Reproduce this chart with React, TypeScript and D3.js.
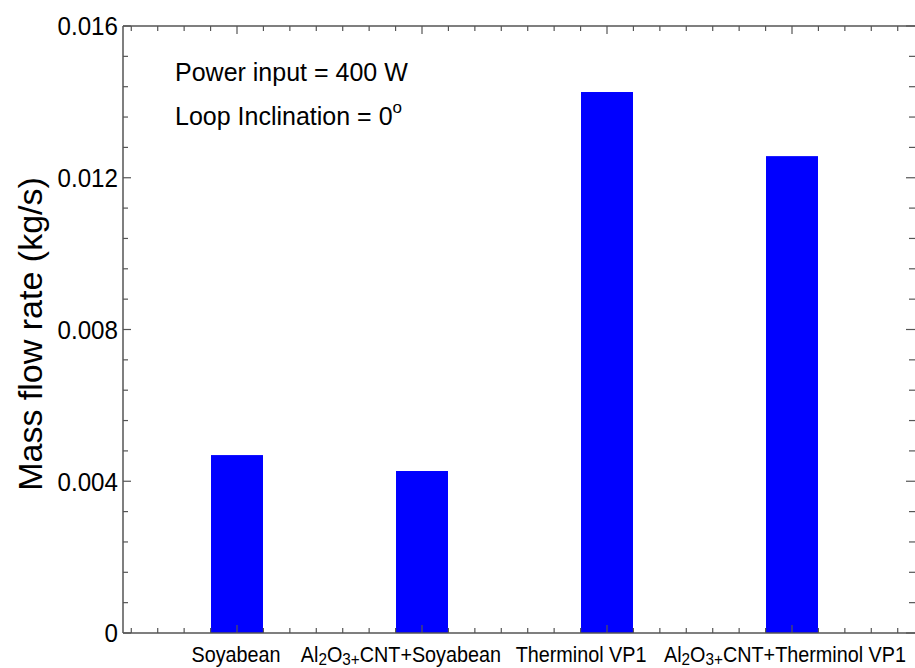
import React from "react";
import * as d3 from "d3";

const categories = ["Soyabean", "Al2O3+CNT+Soyabean", "Therminol VP1", "Al2O3+CNT+Therminol VP1"];
const massFlow = [0.00469, 0.00427, 0.01426, 0.01257];
const yMajorTicks = [0, 0.004, 0.008, 0.012, 0.016];
const yTickLabels = ["0", "0.004", "0.008", "0.012", "0.016"];
const annotationLine1 = "Power input = 400 W";
const annotationLine2 = "Loop Inclination = 0";
const yTitle = "Mass flow rate (kg/s)";

const W = 915;
const H = 668;
const left = 123;
const right = 916;
const top = 26;
const bottom = 633;
const font = "'Liberation Sans', Arial, sans-serif";

function CatLabel({ name, x, y }: { name: string; x: number; y: number }) {
  const common = {
    textAnchor: "middle" as const,
    fontSize: 22,
    fontFamily: font,
    fill: "#000",
    transform: `translate(${x}, ${y}) scale(0.9, 1)`,
  };
  if (name.startsWith("Al2O3+")) {
    const rest = name.slice(6);
    return (
      <text {...common}>
        Al
        <tspan fontSize={17} dy={3}>2</tspan>
        <tspan dy={-3}>O</tspan>
        <tspan fontSize={17} dy={3}>3+</tspan>
        <tspan dy={-3}>{rest}</tspan>
      </text>
    );
  }
  return <text {...common}>{name}</text>;
}

export default function App() {
  const x = d3.scaleLinear().domain([1 - 114 / 185, 1 + 679 / 185]).range([left, right]);
  const y = d3.scaleLinear().domain([0, 0.016]).range([bottom, top]);
  const barW = x(1.281) - x(1);
  const xMinor = d3.range(-4, 30).map((k) => 1 + k / 7).filter((c) => x(c) > left + 2 && x(c) < right - 1);
  const yMinor = d3.range(0, 21).map((k) => k * 0.0008);
  const labelCenters = [0.995, 1.886, 2.86, 3.962];
  const axisColor = "#555";

  return (
    <div style={{ position: "fixed", left: 0, top: 0 }}>
      <svg width={W} height={H} style={{ display: "block", background: "#fff" }}>
        <rect x={0} y={0} width={W} height={H} fill="#fff" />
        {categories.map((c, i) => (
          <rect
            key={c}
            x={x(i + 1) - barW / 2}
            y={y(massFlow[i])}
            width={barW}
            height={y(0) - y(massFlow[i])}
            fill="#0000ff"
          />
        ))}
        <line x1={left} x2={right} y1={top} y2={top} stroke={axisColor} strokeWidth={1.5} />
        <line x1={left} x2={right} y1={bottom} y2={bottom} stroke={axisColor} strokeWidth={1.5} />
        <line x1={left} x2={left} y1={top} y2={bottom} stroke={axisColor} strokeWidth={1.5} />
        <line x1={right} x2={right} y1={top} y2={bottom} stroke={axisColor} strokeWidth={1.5} />
        {xMinor.map((c, i) => {
          const major = Math.abs(c - Math.round(c)) < 1e-6;
          const len = major ? 8 : 5;
          return (
            <g key={i}>
              <line x1={x(c)} x2={x(c)} y1={bottom} y2={bottom - len} stroke={axisColor} strokeWidth={1.2} />
              <line x1={x(c)} x2={x(c)} y1={top} y2={top + len} stroke={axisColor} strokeWidth={1.2} />
            </g>
          );
        })}
        {yMinor.map((v, i) => {
          const major = yMajorTicks.some((m) => Math.abs(m - v) < 1e-9);
          const len = major ? 8 : 5;
          return (
            <g key={i}>
              <line x1={left} x2={left + len} y1={y(v)} y2={y(v)} stroke={axisColor} strokeWidth={1.2} />
              <line x1={W - len - 1} x2={W} y1={y(v)} y2={y(v)} stroke={axisColor} strokeWidth={1.2} />
            </g>
          );
        })}
        {yMajorTicks.map((v, i) => (
          <text
            key={i}
            transform={`translate(${left - 5}, ${y(v)}) scale(0.93, 1)`}
            dy="0.36em"
            textAnchor="end"
            fontSize={26}
            fontFamily={font}
            fill="#000"
          >
            {yTickLabels[i]}
          </text>
        ))}
        {categories.map((c, i) => (
          <CatLabel key={c} name={c} x={x(labelCenters[i])} y={662} />
        ))}
        <text
          transform={`translate(42, 334) rotate(-90)`}
          textAnchor="middle"
          fontSize={34}
          fontFamily={font}
          fill="#000"
        >
          {yTitle}
        </text>
        <text x={175} y={81} fontSize={25} fontFamily={font} fill="#000">
          {annotationLine1}
        </text>
        <text x={175} y={125} fontSize={25} fontFamily={font} fill="#000">
          {annotationLine2}
          <tspan fontSize={17} dy={-12}>o</tspan>
        </text>
      </svg>
    </div>
  );
}
